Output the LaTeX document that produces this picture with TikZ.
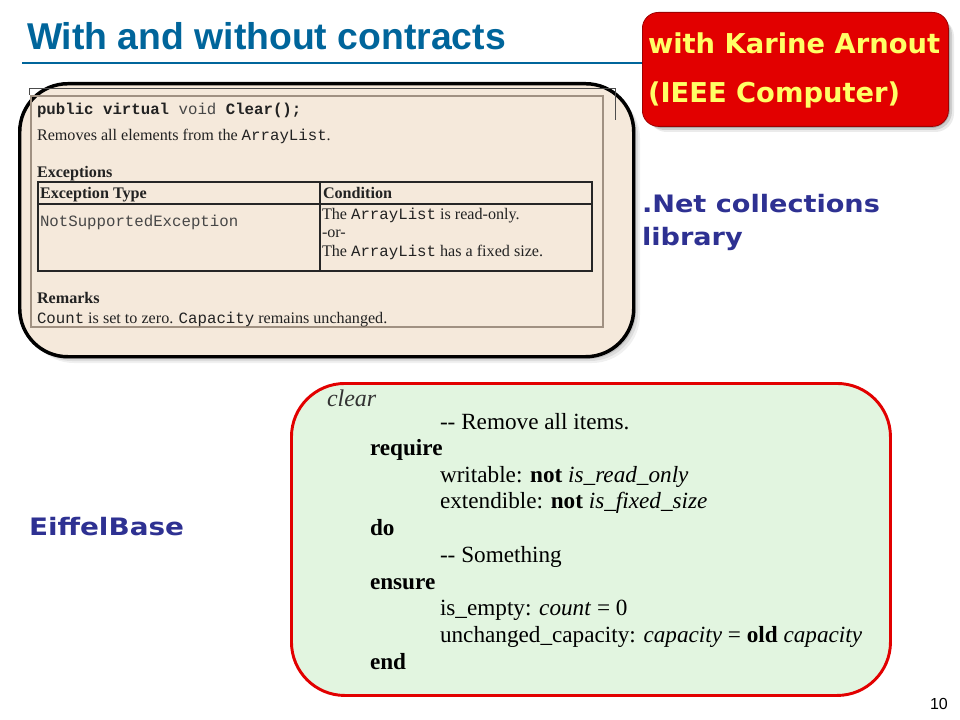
\documentclass[tikz,border=0pt]{standalone}
\usepackage{fontspec}
\setmainfont{Liberation Serif}
\newfontfamily\arial{Liberation Sans}
\newfontfamily\cour{Liberation Mono}
\newfontfamily\comic{DejaVu Sans}
\definecolor{titleblue}{RGB}{0,101,155}
\definecolor{labelblue}{RGB}{46,49,146}
\definecolor{boxred}{RGB}{226,0,0}
\definecolor{txtyellow}{RGB}{255,255,102}
\definecolor{beige}{RGB}{245,233,219}
\definecolor{eiffelgreen}{RGB}{226,245,224}
\definecolor{frameline}{RGB}{160,145,130}
\definecolor{doctext}{RGB}{34,34,34}
\definecolor{monogray}{RGB}{70,70,70}
\newcommand{\fs}[1]{\fontsize{#1}{#1}\selectfont}
\newcommand{\cw}[1]{{\cour\fs{11.8pt}#1}}
\begin{document}
\begin{tikzpicture}[x=0.75pt,y=-0.75pt,
  txt/.style={anchor=base west,inner sep=0pt,outer sep=0pt},
  doc/.style={txt,text=doctext,font=\fs{12.1pt}},
  eif/.style={txt,text=black,font=\fs{17.4pt}},
  lbl/.style={txt,text=labelblue,font=\comic\bfseries\fs{18pt}}]
\useasboundingbox[fill=white] (0,0) rectangle (960,720);

% title
\node[txt,text=titleblue,font=\arial\bfseries\fs{28pt}] (title) at (27,50) {With and without contracts};
\coordinate (tl) at (22,63);
\coordinate (tr) at (642,63);
\draw[titleblue,line width=0.9pt] (tl) -- (tr);

% red box
\foreach \o/\a in {6/0.08,4/0.12,2/0.18}{
  \fill[black,opacity=\a,rounded corners=14] (642+\o,12+\o) rectangle (948+\o,126+\o);}
\node[draw=boxred!70!black,line width=0.6pt,fill=boxred,rounded corners=12,minimum width=306*0.75pt,minimum height=114*0.75pt,inner sep=0pt,anchor=north west] (redbox) at (642,12) {};
\node[txt,text=txtyellow,font=\comic\bfseries\fs{20.5pt}] (k1) at (648,54) {with Karine Arnout};
\node[txt,text=txtyellow,font=\comic\bfseries\fs{20.5pt}] (k2) at (648,103) {(IEEE Computer)};

% upper box (.NET doc)
\foreach \o/\a in {8/0.06,6/0.08,4/0.12,2/0.16}{
  \fill[black,opacity=\a,rounded corners=36] (18+\o,82+\o) rectangle (632+\o,355+\o);}
\node[draw=black,line width=2.6pt,fill=beige,rounded corners=36,minimum width=614*0.75pt,minimum height=273*0.75pt,inner sep=0pt,anchor=north west] (netbox) at (18,82) {};
\draw[frameline,line width=0.8pt] (31,96) rectangle (603,327);
\draw[black!70,line width=0.5pt] (29,95) -- (29,88) -- (615,88) -- (615,120);

\node[doc,font=\cour\fs{11.8pt}] (sig) at (37,115) {\textbf{public virtual} {\color{monogray}void} \textbf{Clear();}};
\node[doc] (desc) at (37,141) {Removes all elements from the \cw{ArrayList}.};
\node[doc] (exc) at (37,178) {\textbf{Exceptions}};
\draw[black!85,line width=1.6pt] (38,182) rectangle (592,271);
\draw[black!85,line width=1.2pt] (38,204) -- (592,204);
\draw[black!85,line width=1.2pt] (320,182) -- (320,271);
\node[doc] (h1) at (40,199) {\textbf{Exception Type}};
\node[doc] (h2) at (323,199) {\textbf{Condition}};
\node[doc,text=monogray,font=\cour\fs{11.8pt}] (nse) at (40,227) {NotSupportedException};
\node[doc] (c1) at (322,220) {The \cw{ArrayList} is read-only.};
\node[doc] (c2) at (322,238) {-or-};
\node[doc] (c3) at (322,257) {The \cw{ArrayList} has a fixed size.};
\node[doc] (rem) at (37,304) {\textbf{Remarks}};
\node[doc] (rem2) at (37,323) {\cw{Count} is set to zero. \cw{Capacity} remains unchanged.};

% labels
\node[lbl] (net1) at (642,213) {\scalebox{1.13}[1]{.Net collections}};
\node[lbl] (net2) at (642,246) {\scalebox{1.13}[1]{library}};
\node[lbl] (eb) at (29,535) {\scalebox{1.16}[1]{EiffelBase}};

% Eiffel box
\node[draw=boxred,line width=2.2pt,fill=eiffelgreen,rounded corners=40,minimum width=599*0.75pt,minimum height=312*0.75pt,inner sep=0pt,anchor=north west] (eifbox) at (290,382) {};
\node[eif,font=\itshape\fs{18pt},text=black!80] (e0) at (327,406) {clear};
\node[eif] (e1) at (440,429) {-{}- Remove all items.};
\node[eif] (e2) at (370,455) {\textbf{require}};
\node[eif] (e3) at (440,482) {writable: \textbf{not} \textit{is\_read\_only}};
\node[eif] (e4) at (440,508) {extendible: \textbf{not} \textit{is\_fixed\_size}};
\node[eif] (e5) at (370,535) {\textbf{do}};
\node[eif] (e6) at (440,562) {-{}- Something};
\node[eif] (e7) at (370,589) {\textbf{ensure}};
\node[eif] (e8) at (440,615) {is\_empty: \textit{count} = 0};
\node[eif] (e9) at (440,642) {unchanged\_capacity: \textit{capacity} = \textbf{old} \textit{capacity}};
\node[eif] (e10) at (370,669) {\textbf{end}};

% page number
\node[txt,font=\arial\fs{12pt}] (pg) at (930,709) {10};
\end{tikzpicture}
\end{document}
